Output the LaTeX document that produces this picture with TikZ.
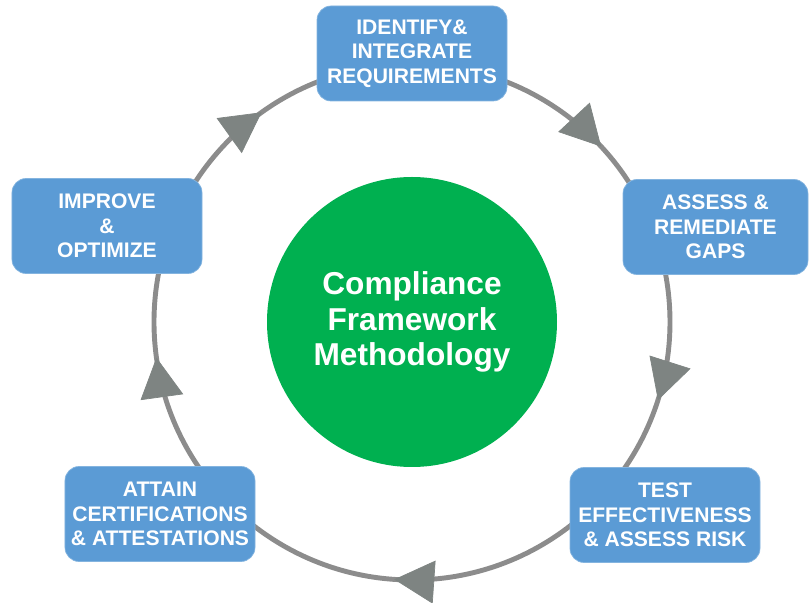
\documentclass[tikz,border=0pt]{standalone}
\usepackage{fontspec}
\setmainfont{Liberation Sans}
\usepackage{tikz}
\usetikzlibrary{arrows.meta,positioning,decorations.markings}
\definecolor{stepblue}{RGB}{91,155,213}
\definecolor{hubgreen}{RGB}{0,176,80}
\definecolor{ringgray}{RGB}{140,140,140}
\definecolor{tipgray}{RGB}{126,132,130}
\tikzset{
  stepbox/.style={rectangle,rounded corners=8pt,draw=stepblue!75!white,thin,fill=stepblue,
              minimum width=3.8cm,minimum height=1.9cm,align=center,text=white,
              font=\fontsize{12}{14}\selectfont\bfseries},
  hub/.style={circle,fill=hubgreen,minimum size=5.8cm,align=center,text=white,
              font=\fontsize{18}{20}\selectfont\bfseries},
  ring/.style={line width=2.8pt,draw=ringgray},
  cycletip/.tip={Triangle[length=0.8cm,width=0.86cm,line width=0.4pt,color=tipgray]},
}

\begin{document}
\begin{tikzpicture}
  \useasboundingbox (0,0) rectangle (16.18,12.06);
  \node[hub] (hub) at (8.24,5.62) {Compliance\\Framework\\Methodology};

  % cycle ring, arrows run clockwise
  \draw[ring,postaction={decorate},decoration={markings,
      mark=at position 0.119 with {\arrowreversed{cycletip}},
      mark=at position 0.349 with {\arrowreversed{cycletip}},
      mark=at position 0.522 with {\arrowreversed{cycletip}},
      mark=at position 0.739 with {\arrowreversed{cycletip}},
      mark=at position 0.951 with {\arrowreversed{cycletip}}}]
    (hub) circle[radius=5.16cm];

  \node[stepbox] (identify) at (8.24,10.99) {IDENTIFY\&\\INTEGRATE\\REQUIREMENTS};
  \node[stepbox,minimum width=3.7cm] (assess) at (14.31,7.52) {ASSESS \&\\REMEDIATE\\GAPS};
  \node[stepbox] (test) at (13.30,1.76) {TEST\\EFFECTIVENESS\\\& ASSESS RISK};
  \node[stepbox] (attain) at (3.20,1.78) {ATTAIN\\CERTIFICATIONS\\\& ATTESTATIONS};
  \node[stepbox] (improve) at (2.14,7.54) {IMPROVE\\\&\\OPTIMIZE};
\end{tikzpicture}
\end{document}
